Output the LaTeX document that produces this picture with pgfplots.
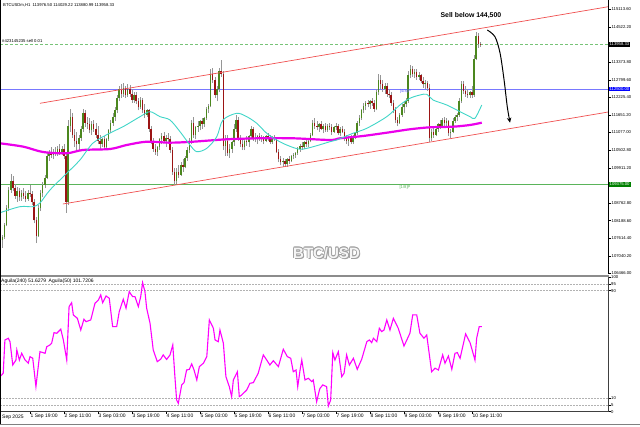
\documentclass[border=0pt]{standalone}
\usepackage{pgfplots}
\usepackage{pgfplotstable}
\pgfplotsset{compat=1.18}
\usepackage{fontspec}
\setmainfont{Liberation Sans}
\usetikzlibrary{arrows.meta}

\definecolor{bullc}{RGB}{75,135,30}
\definecolor{bearc}{RGB}{155,20,20}
\definecolor{wickc}{RGB}{150,150,150}
\definecolor{maslow}{RGB}{235,0,235}
\definecolor{oscline}{RGB}{255,0,255}
\definecolor{mafast}{RGB}{64,214,200}
\definecolor{chanred}{RGB}{240,80,80}
\definecolor{lvlblue}{RGB}{120,120,255}
\definecolor{lvlgreen}{RGB}{90,180,90}
\definecolor{ordgreen}{RGB}{120,195,120}
\definecolor{boxblue}{RGB}{0,0,255}
\definecolor{boxgreen}{RGB}{0,128,0}
\definecolor{sepgray}{RGB}{140,140,140}

\newcommand{\pxs}{\fontsize{4.2}{5}\selectfont}
\newcommand{\pxm}{\fontsize{5}{6}\selectfont}

% hourly candles, t = hours since 1 Sep 2025 00:00
\pgfplotstableread{
t o hi lo c
5 107720 107884 107393 107557
6 107557 107720 107300 107650
7 107650 108100 107600 108050
8 108050 108700 108000 108600
9 108600 109300 108500 109200
10 109200 109720 109100 109500
11 109500 109650 109150 109250
12 109250 109400 108900 109000
13 109000 109300 108800 109150
14 109150 109250 108850 108950
15 108950 109200 108850 109100
16 109100 109250 108900 109000
17 109000 109150 108800 108900
18 108900 109200 108850 109100
19 109100 109350 108950 109050
20 109050 109150 108700 108800
21 108800 108900 108100 108200
22 108200 108300 107450 107700
23 107700 108700 107650 108600
24 108600 109200 108500 109100
25 109100 109450 108950 109350
26 109350 109700 109250 109600
27 109600 110400 109550 110300
28 110300 110500 110150 110400
29 110400 110600 110250 110350
30 110350 110550 110200 110450
31 110450 110600 110300 110380
32 110380 110650 110300 110550
33 110550 110700 110350 110420
34 110420 110650 110350 110550
35 110550 110700 110200 110300
36 110300 110400 108450 108800
37 108800 111500 108700 111300
38 111300 111850 111100 111600
39 111600 111700 110900 111000
40 111000 111200 110600 110800
41 110800 111100 110500 110700
42 110700 111000 110500 110900
43 110900 111300 110800 111200
44 111200 111850 111100 111700
45 111700 111800 111250 111400
46 111400 111600 111200 111350
47 111350 111550 111050 111150
48 111150 111450 111000 111350
49 111350 111500 111100 111200
50 111200 111400 110900 111000
51 111000 111300 110700 110800
52 110800 111000 110550 110700
53 110700 110900 110600 110850
54 110850 110950 110500 110600
55 110600 110900 110500 110850
56 110850 111200 110800 111150
57 111150 111500 111050 111400
58 111400 111700 111300 111600
59 111600 111900 111450 111800
60 111800 112300 111700 112200
61 112200 112600 112100 112500
62 112500 112650 112200 112350
63 112350 112700 112250 112550
64 112550 112600 112200 112300
65 112300 112650 112250 112500
66 112500 112640 112250 112350
67 112350 112500 112050 112150
68 112150 112400 112050 112300
69 112300 112400 112000 112100
70 112100 112200 111800 111900
71 111900 112250 111850 112150
72 112150 112200 111700 111800
73 111800 112000 111550 111650
74 111650 111850 111600 111800
75 111800 111850 111100 111200
76 111200 111300 110700 110800
77 110800 110900 110450 110550
78 110550 110700 110350 110450
79 110450 110650 110300 110600
80 110600 110900 110500 110850
81 110850 111050 110700 110950
82 110950 111100 110750 110800
83 110800 111000 110600 110900
84 110900 111050 110750 110850
85 110850 110950 110400 110500
86 110500 110600 109700 109800
87 109800 109900 109360 109500
88 109500 109900 109400 109800
89 109800 110000 109600 109700
90 109700 110100 109650 110000
91 110000 110200 109800 109950
92 109950 110300 109900 110250
93 110250 110600 110150 110500
94 110500 110900 110400 110800
95 110800 111500 110700 111400
96 111400 111600 110900 111000
97 111000 111300 110850 111250
98 111250 111450 111100 111300
99 111300 111500 111150 111450
100 111450 111550 111200 111350
101 111350 111600 111250 111550
102 111550 111900 111500 111850
103 111850 112000 111700 111950
104 111950 113150 111900 113000
105 113000 113200 112700 112800
106 112800 112900 112200 112300
107 112300 112600 112100 112500
108 112500 113200 112400 113100
109 113100 113450 112900 113000
110 113000 113100 110500 110650
111 110650 111000 110300 110800
112 110800 111000 110300 110400
113 110400 110700 110250 110550
114 110550 110800 110400 110750
115 110750 111350 110650 111200
116 111200 111650 111100 111500
117 111500 111600 110800 110900
118 110900 111000 110600 110700
119 110700 110850 110500 110600
120 110600 110900 110500 110800
121 110800 110950 110650 110750
122 110750 111000 110600 110950
123 110950 111300 110900 111200
124 111200 111250 110800 110900
125 110900 111050 110750 110850
126 110850 111000 110700 110950
127 110950 111050 110800 110850
128 110850 111000 110750 110900
129 110900 110950 110700 110800
130 110800 111000 110750 110950
131 110950 111050 110800 110850
132 110850 111000 110700 110750
133 110750 110950 110700 110900
134 110900 111000 110800 110850
135 110850 110900 110400 110450
136 110450 110550 110100 110200
137 110200 110300 110000 110100
138 110100 110250 109950 110150
139 110150 110200 109950 110050
140 110050 110250 109950 110200
141 110200 110300 110050 110150
142 110150 110350 110100 110300
143 110300 110400 110200 110350
144 110350 110450 110250 110400
145 110400 110600 110350 110550
146 110550 110700 110450 110650
147 110650 110750 110500 110600
148 110600 110800 110550 110750
149 110750 110850 110600 110700
150 110700 110850 110600 110800
151 110800 111050 110750 111000
152 111000 111500 110950 111400
153 111400 111550 111200 111300
154 111300 111450 111150 111250
155 111250 111400 111100 111350
156 111350 111450 111150 111200
157 111200 111350 111050 111300
158 111300 111400 111100 111150
159 111150 111350 111100 111300
160 111300 111400 111150 111250
161 111250 111350 111000 111100
162 111100 111300 111050 111250
163 111250 111400 111150 111300
164 111300 111350 111000 111050
165 111050 111250 110950 111200
166 111200 111300 111050 111100
167 111100 111200 110800 110900
168 110900 111000 110700 110800
169 110800 110950 110650 110900
170 110900 111000 110700 110750
171 110750 111000 110700 110950
172 110950 111100 110850 111050
173 111050 111450 111000 111400
174 111400 111650 111300 111550
175 111550 111850 111500 111800
176 111800 112050 111700 111950
177 111950 112100 111800 112050
178 112050 112150 111900 112000
179 112000 112150 111850 112100
180 112100 112200 111950 112050
181 112050 112150 111750 111850
182 111850 112500 111800 112400
183 112400 113000 112300 112800
184 112800 112950 112500 112650
185 112650 112800 112400 112500
186 112500 112700 112350 112600
187 112600 112700 112250 112350
188 112350 112500 112200 112300
189 112300 112400 111950 112050
190 112050 112150 111700 111800
191 111800 111900 111400 111500
192 111500 111600 111280 111400
193 111400 111700 111350 111650
194 111650 112000 111600 111900
195 111900 112100 111700 112000
196 112000 112200 111900 112100
197 112100 113100 112050 112950
198 112950 113300 112850 113150
199 113150 113250 112900 113000
200 113000 113150 112850 113050
201 113050 113150 112800 112900
202 112900 113050 112800 112950
203 112950 113000 112700 112750
204 112750 112900 112550 112650
205 112650 112800 112500 112700
206 112700 112750 112450 112550
207 112550 112650 110750 110900
208 110900 111200 110800 111100
209 111100 111300 110900 111000
210 111000 111250 110950 111200
211 111200 111400 111100 111350
212 111350 111500 111200 111300
213 111300 111550 111250 111500
214 111500 111600 111300 111400
215 111400 111550 111300 111450
216 111450 111500 110950 111050
217 111050 111200 110900 111100
218 111100 111550 111050 111450
219 111450 111650 111400 111600
220 111600 111700 111450 111650
221 111650 112200 111600 112100
222 112100 112750 112050 112650
223 112650 112750 112350 112450
224 112450 112600 112250 112350
225 112350 112500 112200 112300
226 112300 112450 112200 112400
227 112400 112600 112200 112300
228 112300 113600 112250 113500
229 113500 114380 113450 114250
230 114250 114330 113850 113976.5
231 113976.5 114029.22 113880.99 113958.33
}\candles

\begin{document}
\begin{tikzpicture}
\fill[white] (0pt,0pt) rectangle (640pt,427pt);

% ---------------- price panel ----------------
\begin{axis}[
  name=main,
  at={(0pt,153pt)}, anchor=south west,
  scale only axis, width=608.5pt, height=274pt,
  xmin=4.89, xmax=291.24, ymin=106443, ymax=115418,
  axis line style={draw=none},
  xtick=\empty, ytick pos=right, yticklabel pos=right,
  scaled y ticks=false,
  tick align=outside, major tick length=2.5pt,
  tick style={black, line width=0.5pt},
  ytick={106466,107040.2,107614.4,108188.6,108762.8,109911.2,110502.8,111077,111651.2,112225.4,112799.6,113373.8,114522.2,115113.6},
  yticklabels={106466.00,107040.20,107614.40,108188.60,108762.80,109911.20,110502.80,111077.00,111651.20,112225.40,112799.60,113373.80,114522.20,115113.60},
  yticklabel style={font=\pxs, anchor=west, inner sep=0pt, xshift=0.5pt},
]
% horizontal levels
\addplot[lvlblue, line width=0.9pt] coordinates {(4.89,112500) (291.24,112500)};
\addplot[lvlgreen, line width=0.8pt] coordinates {(4.89,109375) (291.24,109375)};
\addplot[ordgreen, line width=0.8pt, dash pattern=on 3pt off 2pt] coordinates {(4.89,113958.33) (291.24,113958.33)};
% wicks
\addplot[draw=none, mark=none, error bars/.cd, y dir=plus, y explicit, error mark=none,
  error bar style={draw=wickc, line width=0.6pt}]
  table[x=t, y=lo, y error expr={\thisrow{hi}-\thisrow{lo}}] {\candles};
% bodies
\addplot[draw=none, mark=none, error bars/.cd, y dir=plus, y explicit, error mark=none,
  error bar style={draw=bullc, line width=1.5pt}]
  table[x=t, y expr={\thisrow{c}>=\thisrow{o} ? \thisrow{o} : nan}, y error expr={\thisrow{c}-\thisrow{o}}] {\candles};
\addplot[draw=none, mark=none, error bars/.cd, y dir=plus, y explicit, error mark=none,
  error bar style={draw=bearc, line width=1.5pt}]
  table[x=t, y expr={\thisrow{c}<\thisrow{o} ? \thisrow{c} : nan}, y error expr={\thisrow{o}-\thisrow{c}}] {\candles};
% moving averages
\addplot[maslow, line width=2.2pt, smooth] coordinates {
(4.9,110724) (15.9,110613) (25.1,110439) (36.3,110397) (43.9,110505) (56.7,110537)
(64.5,110668) (73.9,110776) (84.9,110744) (95.7,110776) (111.6,110855) (127.2,110888)
(142.8,110888) (160.2,110832) (164.9,110888) (175.7,110963) (186.9,111071) (197.8,111183)
(207.3,111248) (218.1,111268) (226.1,111324) (231.6,111399)};
\addplot[mafast, line width=0.9pt, smooth] coordinates {
(4.9,108451) (14.3,108648) (20.4,108648) (23.7,108769) (28.4,109194) (36.3,109741)
(42.5,110177) (48.7,110734) (56.7,111062) (62.8,111268) (70.8,111596) (75.5,111759)
(80.2,111596) (84.9,111487) (89.6,111104) (94.3,110668) (97.5,110449) (102.2,110560)
(106.9,110940) (109.8,111487) (116.3,111707) (121.0,111596) (125.7,111379) (130.4,111052)
(135.1,110832) (139.8,110668) (146.1,110528) (152.3,110613) (160.2,110777) (163.3,110832)
(171.0,111052) (177.5,111215) (186.9,111596) (193.1,111979) (197.8,112198) (202.5,112306)
(205.7,112329) (208.7,112142) (215.1,111979) (221.4,111759) (226.1,111596) (228.4,111543)
(231.6,111979)};
% channel
\addplot[chanred, line width=0.7pt] coordinates {(23.7,112034) (291.24,115199)};
\addplot[chanred, line width=0.7pt] coordinates {(34.5,108736) (291.24,111750)};
% forecast arrow
\addplot[black, line width=1pt, smooth, -{Stealth[length=5pt,width=4.5pt]}] coordinates {
(234.2,114435) (237.8,114216) (240.2,113682) (242.1,112798) (243.6,111923) (244.9,111399)};
% labels inside the plot area
\node[font=\fontsize{6.9}{8}\selectfont\bfseries, anchor=center] at (axis cs:226.5,114894) {Sell below 144,500};
\node[font=\pxs, text=lvlblue!80!blue, anchor=center, inner sep=0pt] at (axis cs:195.7,112414) {[4/8]P};
\node[font=\pxs, text=lvlgreen, anchor=center, inner sep=0pt] at (axis cs:195.5,109293) {[1/8]P};
\coordinate (pbk) at (axis cs:291.24,113958.33);
\coordinate (pbb) at (axis cs:291.24,112500);
\coordinate (pbg) at (axis cs:291.24,109375);
\end{axis}
\draw[black, line width=0.6pt] (main.south east) -- (main.north east);
\node[font=\pxs, fill=black, text=white, anchor=west, inner xsep=1pt, inner ysep=0.7pt] at (pbk) {113958.33};
\node[font=\pxs, fill=boxblue, text=white, anchor=west, inner xsep=1pt, inner ysep=0.7pt] at (pbb) {112500.00};
\node[font=\pxs, fill=boxgreen, text=white, anchor=west, inner xsep=1pt, inner ysep=0.7pt] at (pbg) {109375.00};

% ---------------- oscillator panel ----------------
\begin{axis}[
  name=osc,
  at={(0pt,15.3pt)}, anchor=south west,
  scale only axis, width=608.5pt, height=134.7pt,
  xmin=4.89, xmax=291.24, ymin=0, ymax=100.1,
  axis line style={draw=none},
  xtick pos=bottom, xticklabel pos=bottom, ytick pos=right, yticklabel pos=right,
  tick align=outside, major tick length=2pt,
  tick style={black, line width=0.5pt},
  ytick={0,5,10,90,95,100}, yticklabels={0,5,10,90,95,100},
  yticklabel style={font=\pxs, anchor=west, inner sep=0pt, xshift=0.5pt},
  xtick={19,35,51,67,83,99,115,131,147,163,179,195,211,227},
  xticklabels={1 Sep 19:00,2 Sep 11:00,3 Sep 03:00,3 Sep 19:00,4 Sep 11:00,5 Sep 03:00,5 Sep 19:00,6 Sep 11:00,7 Sep 03:00,7 Sep 19:00,8 Sep 11:00,9 Sep 03:00,9 Sep 19:00,10 Sep 11:00},
  xticklabel style={font=\pxm, anchor=north west, inner sep=0pt, xshift=0.5pt, yshift=-0.5pt},
]
\addplot[gray!60, dash pattern=on 1.5pt off 1.5pt, line width=0.4pt] coordinates {(4.89,95) (291.24,95)};
\addplot[gray!60, dash pattern=on 1.5pt off 1.5pt, line width=0.4pt] coordinates {(4.89,90) (291.24,90)};
\addplot[gray!60, dash pattern=on 1.5pt off 1.5pt, line width=0.4pt] coordinates {(4.89,10) (291.24,10)};
\addplot[gray!60, dash pattern=on 1.5pt off 1.5pt, line width=0.4pt] coordinates {(4.89,5) (291.24,5)};
\addplot[oscline, line width=1.1pt] coordinates {
(4.9,26.0) (6.4,28.6) (7.2,53.3) (8.8,54.6) (9.6,52.0) (10.9,34.7) (12.4,38.4) (12.8,45.9)
(14.0,38.4) (15.1,43.4) (16.7,38.4) (18.2,36.0) (19.0,40.9) (20.3,39.7) (21.8,18.6) (23.7,44.6)
(26.1,43.4) (26.9,48.3) (28.4,49.6) (29.2,50.9) (30.3,58.7) (31.6,58.3) (33.5,61.3) (34.7,53.3)
(36.3,38.4) (37.4,78.1) (38.6,81.0) (39.4,71.9) (41.3,69.4) (42.9,60.7) (44.4,68.7) (45.4,66.9)
(47.6,68.2) (49.6,80.6) (51.2,83.0) (52.3,86.8) (53.2,81.0) (54.8,86.0) (56.3,84.3) (57.9,63.2)
(59.8,63.2) (61.0,74.3) (62.9,83.6) (64.2,76.9) (65.7,89.2) (67.3,85.5) (68.4,85.5) (70.0,78.1)
(71.1,85.5) (72.0,95.9) (73.1,89.2) (73.9,76.9) (75.5,65.7) (77.0,45.9) (78.9,37.2) (80.5,39.0)
(81.7,42.2) (83.3,38.8) (84.9,42.2) (86.2,49.6) (87.2,26.0) (88.0,8.7) (88.8,6.2) (90.4,19.9)
(91.5,21.6) (92.7,31.0) (94.0,31.5) (95.1,35.5) (96.2,31.0) (97.5,23.6) (98.7,33.5) (100.6,36.0)
(102.2,40.9) (103.4,68.2) (105.3,62.0) (106.1,53.3) (107.6,52.0) (108.4,60.7) (110.0,50.9) (111.2,26.0)
(112.8,18.6) (113.9,11.2) (114.7,23.6) (116.6,29.7) (117.5,11.2) (118.6,12.4) (121.0,16.1) (122.5,21.1)
(124.1,21.6) (126.4,28.6) (128.8,42.2) (130.4,38.4) (131.9,34.7) (133.5,37.9) (135.9,33.5) (138.2,46.4)
(140.1,40.9) (141.7,39.7) (142.9,29.7) (144.2,31.0) (145.0,18.6) (146.1,31.0) (146.9,38.4) (148.4,23.6)
(150.0,24.8) (151.6,22.3) (152.3,23.6) (153.9,7.4) (155.2,16.1) (155.5,17.4) (156.8,19.9) (158.6,18.6)
(159.4,4.2) (160.5,8.7) (161.5,43.9) (162.5,38.4) (164.1,44.6) (165.7,26.0) (166.8,28.6) (168.0,42.2)
(169.3,34.7) (171.2,39.7) (173.0,31.5) (175.1,39.0) (177.5,52.0) (178.7,53.3) (179.8,51.3) (180.6,54.6)
(182.2,52.0) (183.4,62.0) (184.5,59.5) (185.6,60.7) (186.9,68.2) (188.4,60.7) (190.0,69.4) (192.3,62.0)
(195.0,48.8) (197.8,58.3) (199.1,71.9) (201.0,71.9) (202.5,58.3) (204.4,54.6) (205.7,57.0) (208.0,29.7)
(209.6,32.3) (211.2,31.0) (213.2,42.2) (214.3,36.0) (215.9,41.4) (217.5,31.5) (219.0,43.4) (220.1,43.9)
(221.4,39.7) (224.0,57.8) (226.1,51.3) (228.4,38.4) (229.2,54.6) (230.4,63.2) (231.6,63.2)};
\end{axis}
\draw[black!75, line width=0.6pt] (osc.south west) -- (osc.south east) -- (osc.north east);

% panel separator, frame and captions
\fill[sepgray] (0pt,150.3pt) rectangle (608.5pt,152.3pt);
\draw[black, line width=1pt] (0.5pt,2.5pt) -- (0.5pt,427pt);
\draw[gray, line width=0.8pt] (0pt,2.8pt) -- (640pt,2.8pt);
\node[font=\pxm, anchor=west, inner sep=0pt] at (2pt,10.2pt) {Sep 2025};
\node[font=\pxs, anchor=west, inner sep=0pt] at (3pt,422pt) {BTCUSDm,H1\enspace 113976.50 114029.22 113880.99 113958.33};
\node[font=\pxs, anchor=west, inner sep=0pt] at (2pt,386.3pt) {\#423145235 sell 0.01};
\node[font=\pxm, anchor=west, inner sep=0pt] at (1pt,146pt) {Aguila(240) 51.6279\enspace Aguila(50) 101.7206};
% watermark
\foreach \dx/\dy in {0.7/0,-0.7/0,0/0.7,0/-0.7,0.5/0.5,-0.5/-0.5,0.5/-0.5,-0.5/0.5,1/-1}
  \node[font=\fontsize{15}{17}\selectfont\bfseries, text=gray!75, xshift=\dx pt, yshift=\dy pt] at (326.5pt,174pt) {BTC/USD};
\node[font=\fontsize{15}{17}\selectfont\bfseries, text=gray!8] at (326.5pt,174pt) {BTC/USD};
% fix the page to the chart window
\pgfresetboundingbox
\useasboundingbox (0pt,0pt) rectangle (640pt,427pt);
\end{tikzpicture}
\end{document}
